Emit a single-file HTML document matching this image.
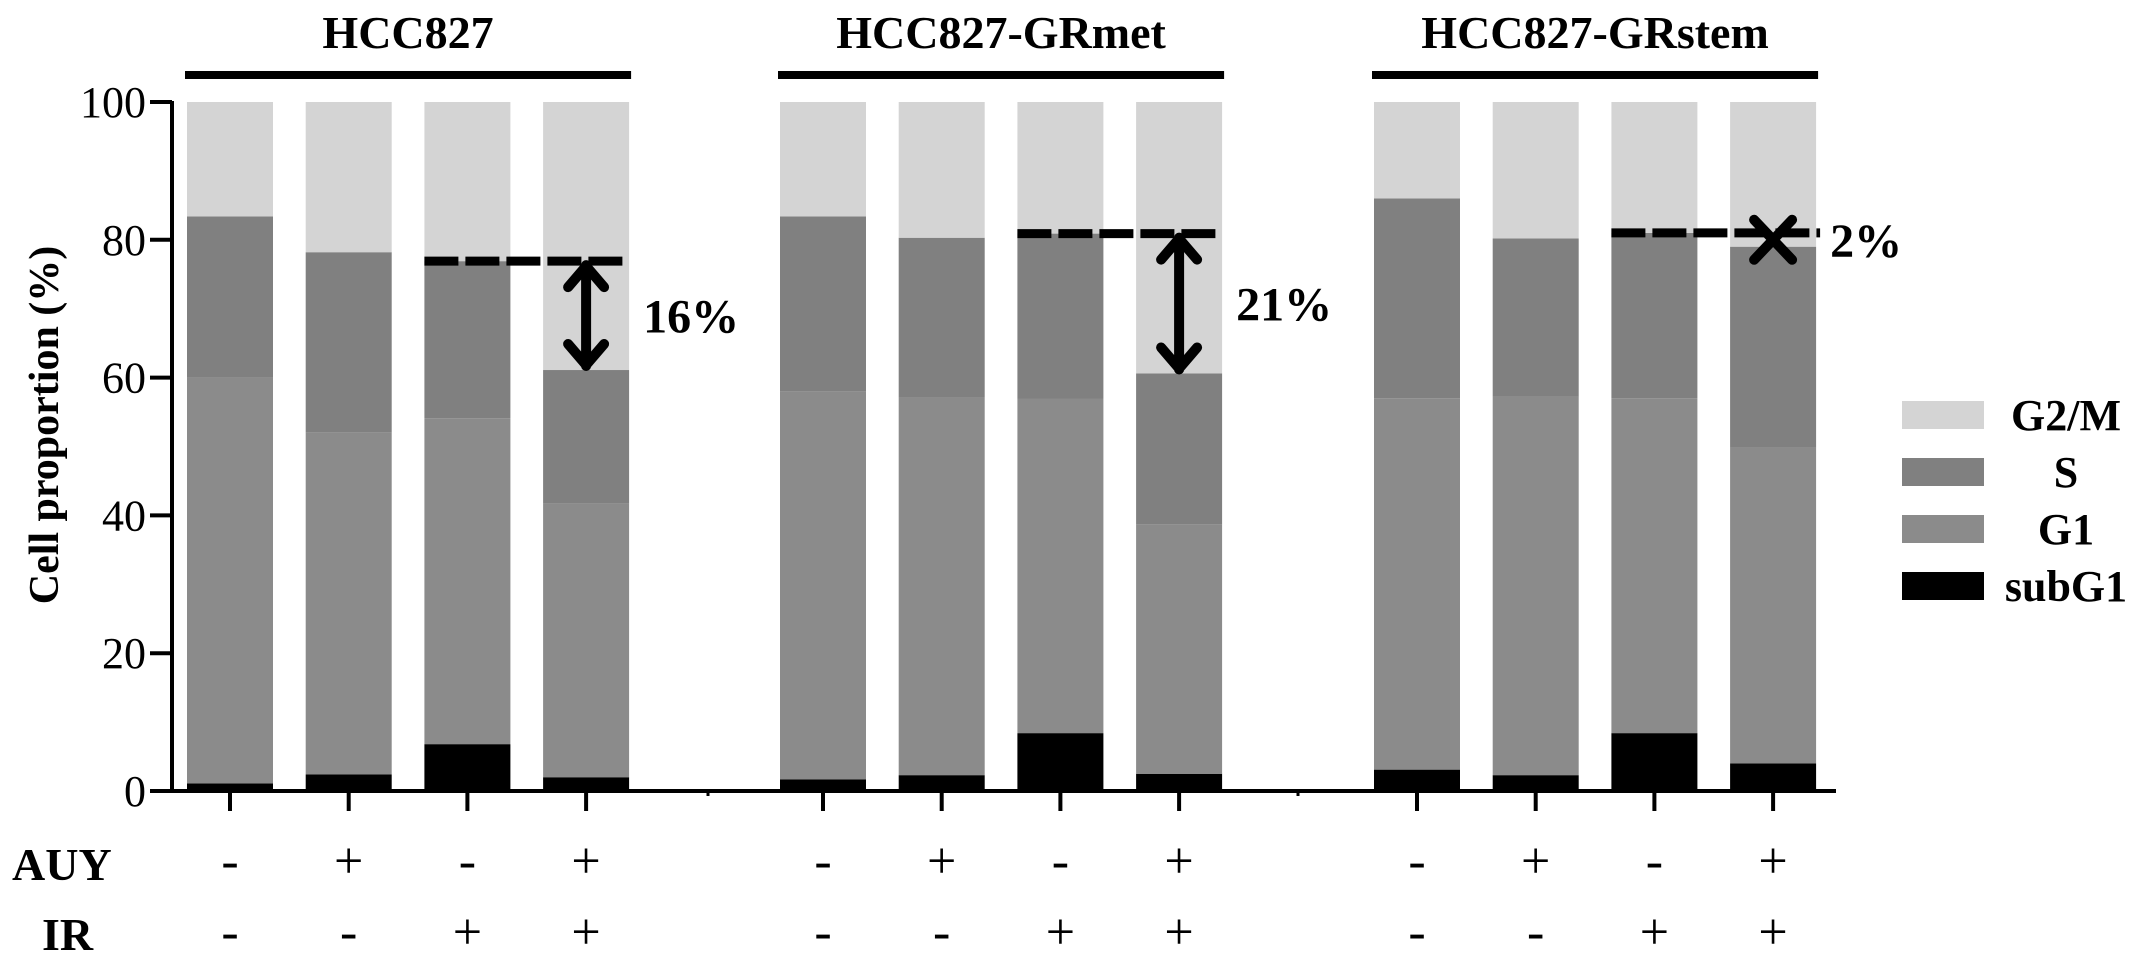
<!DOCTYPE html>
<html><head><meta charset="utf-8"><style>
html,body{margin:0;padding:0;background:#fff;}
svg{display:block;}
svg text{font-family:"Liberation Serif","DejaVu Serif",serif;}
</style></head><body>
<svg id="chart" width="2150" height="959" viewBox="0 0 2150 959" font-family="Liberation Serif, DejaVu Serif, serif">
<g id="bars"></g>
<g id="axes"></g>
<g id="annot"></g>
<g id="legend"></g>
</svg>
<script>
const groups = ["HCC827", "HCC827-GRmet", "HCC827-GRstem"];
const phases = ["subG1", "G1", "S", "G2/M"];
const subG1Top = [1.1, 2.4, 6.8, 2.0, 1.7, 2.3, 8.4, 2.5, 3.1, 2.3, 8.4, 4.0];
const g1Top = [60, 52, 54.1, 41.7, 58, 57.1, 56.9, 38.7, 57, 57.2, 57, 49.8];
const sTop = [83.4, 78.2, 76.9, 61.1, 83.4, 80.3, 80.9, 60.6, 86, 80.2, 81, 79];
const auy = ["-", "+", "-", "+", "-", "+", "-", "+", "-", "+", "-", "+"];
const ir = ["-", "-", "+", "+", "-", "-", "+", "+", "-", "-", "+", "+"];
const yTicks = [0, 20, 40, 60, 80, 100];
const diffLabels = ["16%", "21%", "2%"];

const NS = "http://www.w3.org/2000/svg";
const FF = '"Liberation Serif", "DejaVu Serif", serif';
const colors = {"subG1":"#000000","G1":"#8b8b8b","S":"#808080","G2/M":"#d4d4d4"};
const groupStart = [187, 780, 1374];
const pitch = 118.7, bw = 86;
function y(v){ return 791 - v * 6.89; }
function barX(i){ return groupStart[Math.floor(i/4)] + (i%4) * pitch; }
function mk(tag, attrs, parent){ const e=document.createElementNS(NS,tag); for(const k in attrs) e.setAttribute(k,attrs[k]); if(tag==='text') e.style.fontFamily=FF; parent.appendChild(e); return e; }

const bars = document.getElementById('bars');
for (let i = 0; i < subG1Top.length; i++) {
  const tops = [subG1Top[i], g1Top[i], sTop[i], 100];
  let prev = 0;
  for (let p = 0; p < 4; p++) {
    const r = mk('rect', {x: barX(i), y: y(tops[p]), width: bw, height: y(prev) - y(tops[p]), fill: colors[phases[p]]}, bars);
    
    
    prev = tops[p];
  }
}

const axes = document.getElementById('axes');
let e = mk('line', {x1:172, y1:y(100)-1, x2:172, y2:y(0)+2, stroke:'#000', 'stroke-width':4}, axes);
 
e = mk('line', {x1:170, y1:y(0), x2:1836, y2:y(0), stroke:'#000', 'stroke-width':4}, axes);
 
yTicks.forEach(t => {
  const l = mk('line', {x1:150, y1:y(t), x2:172, y2:y(t), stroke:'#000', 'stroke-width':4}, axes);
   
  const tx = mk('text', {x:146, y:y(t)+15, 'text-anchor':'end', 'font-size':44}, axes);
  tx.textContent = t;
   
});
e = mk('text', {x:0, y:0, transform:'translate(58,425) rotate(-90)', 'text-anchor':'middle', 'font-size':42, 'font-weight':'bold'}, axes);
e.textContent = 'Cell proportion (%)';
 
[708, 1298].forEach(xx => { const l = mk('line',{x1:xx,y1:791,x2:xx,y2:796,stroke:'#000','stroke-width':3},axes);   });
for (let i = 0; i < auy.length; i++) {
  const cx = barX(i) + bw/2;
  const l = mk('line', {x1:cx, y1:791, x2:cx, y2:811, stroke:'#000', 'stroke-width':4}, axes);
   
  const a = mk('text', {x:cx, y:878, 'text-anchor':'middle', 'font-size':52}, axes);
  a.textContent = auy[i];
   
  const b = mk('text', {x:cx, y:949, 'text-anchor':'middle', 'font-size':52}, axes);
  b.textContent = ir[i];
   
}
e = mk('text', {x:12, y:880, 'font-size':46, 'font-weight':'bold'}, axes); e.textContent='AUY';
 
e = mk('text', {x:42, y:950, 'font-size':46, 'font-weight':'bold'}, axes); e.textContent='IR';
 

groups.forEach((g, k) => {
  const x0 = groupStart[k] - 2, x1 = groupStart[k] + 3*pitch + bw + 2;
  const l = mk('rect', {x:x0, y:71, width:x1-x0, height:8, fill:'#000'}, axes);
   
  const t = mk('text', {x:(x0+x1)/2, y:48, 'text-anchor':'middle', 'font-size':46, 'font-weight':'bold'}, axes);
  t.textContent = g;
   
});

const annot = document.getElementById('annot');
for (let k = 0; k < 3; k++) {
  const i3 = k*4 + 2, i4 = k*4 + 3;
  const yd = y(sTop[i3]), yb = y(sTop[i4]);
  const xs = barX(i3), xe = barX(i4) + bw + (k===2?4:0);
  const d = mk('line', {x1:xs, y1:yd, x2:xe, y2:yd, stroke:'#000', 'stroke-width':9, 'stroke-dasharray':'34 7'}, annot);
   
  const cx = barX(i4) + bw/2;
  let pd;
  if (yb - yd > 50) {
    pd = `M${cx},${yd+4} L${cx},${yb-4} M${cx-18},${yd+26} L${cx},${yd+5} L${cx+18},${yd+26} M${cx-18},${yb-26} L${cx},${yb-5} L${cx+18},${yb-26}`;
  } else {
    const m = (yd + yb) / 2;
    pd = `M${cx-19},${m-20} L${cx},${m} L${cx+19},${m-20} M${cx-19},${m+20} L${cx},${m} L${cx+19},${m+20}`;
  }
  const p = mk('path', {d:pd, stroke:'#000', 'stroke-width':10, fill:'none', 'stroke-linecap':'round', 'stroke-linejoin':'round'}, annot);
   
  const t = mk('text', {x: barX(i4)+bw+14, y:(yd+yb)/2 + 17, 'font-size':48, 'font-weight':'bold'}, annot);
  t.textContent = diffLabels[k];
   
}

const legend = document.getElementById('legend');
const legOrder = ["G2/M", "S", "G1", "subG1"];
legOrder.forEach((ph, j) => {
  const yy = 401 + j*57;
  const r = mk('rect', {x:1902, y:yy, width:82, height:28, fill:colors[ph]}, legend);
   
  const t = mk('text', {x:2066, y:yy+29, 'text-anchor':'middle', 'font-size':44, 'font-weight':'bold'}, legend);
  t.textContent = ph;
   
});
</script>
</body></html>
